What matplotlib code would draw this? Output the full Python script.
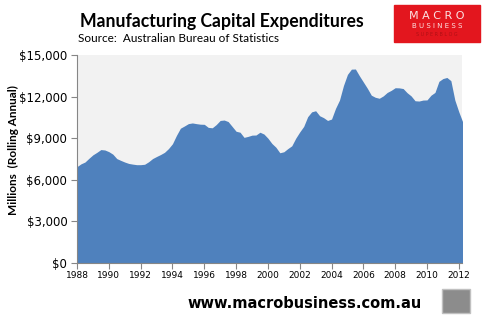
import numpy as np
import matplotlib.pyplot as plt
from matplotlib.patches import Rectangle
from matplotlib.ticker import FuncFormatter

# quarterly rolling annual capex, $ millions, starting 1988 Q1
start_year = 1988
capex = [
    6950, 7150, 7280, 7550, 7800, 7980, 8180, 8150,   # 1988-1989
    8030, 7850, 7530, 7400, 7280, 7180, 7130, 7090,   # 1990-1991
    7090, 7120, 7300, 7530, 7680, 7820, 7980, 8250,   # 1992-1993
    8600, 9200, 9720, 9880, 10050, 10100, 10050, 10010,  # 1994-1995
    10000, 9780, 9750, 9980, 10280, 10310, 10200, 9850,  # 1996-1997
    9500, 9430, 9060, 9130, 9220, 9230, 9430, 9300,   # 1998-1999
    9000, 8620, 8350, 7950, 8020, 8250, 8450, 9000,   # 2000-2001
    9450, 9850, 10550, 10900, 10980, 10620, 10480, 10280,  # 2002-2003
    10380, 11150, 11750, 12800, 13600, 13980, 13990, 13500,  # 2004-2005
    13050, 12600, 12100, 11950, 11880, 12050, 12300, 12450,  # 2006-2007
    12640, 12630, 12580, 12280, 12050, 11700, 11680, 11750,  # 2008-2009
    11760, 12100, 12300, 13100, 13300, 13380, 13150, 11750,  # 2010-2011
    10900, 10150,                                      # 2012
]
years = start_year + np.arange(len(capex)) / 4

x_ticks = list(range(1988, 2013, 2))
y_ticks = [0, 3000, 6000, 9000, 12000, 15000]

fill_color = '#4F81BD'
bg_color = '#F2F2F2'
axis_color = '#868686'

fig = plt.figure(figsize=(4.89, 3.22), dpi=100)
ax = fig.add_axes([77 / 489, 1 - 263 / 322, (462 - 77) / 489, (263 - 55) / 322])
ax.set_facecolor(bg_color)

ax.fill_between(years, capex, 0, color=fill_color, linewidth=0)

ax.set_xlim(1988, 2012.2)
ax.set_ylim(0, 15000)
ax.set_xticks(x_ticks)
ax.set_yticks(y_ticks)
ax.yaxis.set_major_formatter(FuncFormatter(lambda v, p: '${:,.0f}'.format(v)))

for side in ['top', 'right']:
    ax.spines[side].set_visible(False)
for side in ['left', 'bottom']:
    ax.spines[side].set_color(axis_color)
    ax.spines[side].set_linewidth(0.8)

ax.tick_params(axis='y', direction='out', length=4, width=0.8, color=axis_color,
               labelsize=8.5, pad=3)
ax.tick_params(axis='x', direction='out', length=4, width=0.8, color=axis_color,
               labelsize=6.5, pad=2)

fig.text(13 / 489, 1 - 150 / 322, 'Millions  (Rolling Annual)', rotation=90,
         ha='center', va='center', fontsize=8.5, fontweight='bold', family='Lato')

# titles
fig.text(80 / 489, 1 - 22 / 322, 'Manufacturing Capital Expenditures',
         ha='left', va='center', fontsize=12.7, fontweight='bold', family='Lato')
fig.text(78 / 489, 1 - 38 / 322, 'Source:  Australian Bureau of Statistics',
         ha='left', va='center', fontsize=8.5, family='Lato')

# logo box
fig.patches.append(Rectangle((394 / 489, 1 - 42 / 322), 86 / 489, 37 / 322,
                             transform=fig.transFigure, color='#E3161E', zorder=5))
fig.text(437 / 489, 1 - 16 / 322, 'M A C R O', ha='center', va='center', color='#FBE3E3',
         fontsize=8, family='DejaVu Sans', zorder=6)
fig.text(437 / 489, 1 - 26.5 / 322, 'B U S I N E S S', ha='center', va='center',
         color='#FBE3E3', fontsize=5, family='DejaVu Sans', zorder=6)
fig.text(437 / 489, 1 - 34 / 322, 'S U P E R B L O G', ha='center', va='center',
         color='#B01015', fontsize=3.5, family='DejaVu Sans', zorder=6)

# footer
fig.text(305 / 489, 1 - 304 / 322, 'www.macrobusiness.com.au', ha='center', va='center',
         fontsize=10.5, fontweight='bold', family='DejaVu Sans')
fig.patches.append(Rectangle((442 / 489, 1 - 313 / 322), 28 / 489, 24 / 322,
                             transform=fig.transFigure, facecolor='#8C8C8C',
                             edgecolor='#C0C0C0', linewidth=1, zorder=5))

fig.savefig('out.png', dpi=100)
